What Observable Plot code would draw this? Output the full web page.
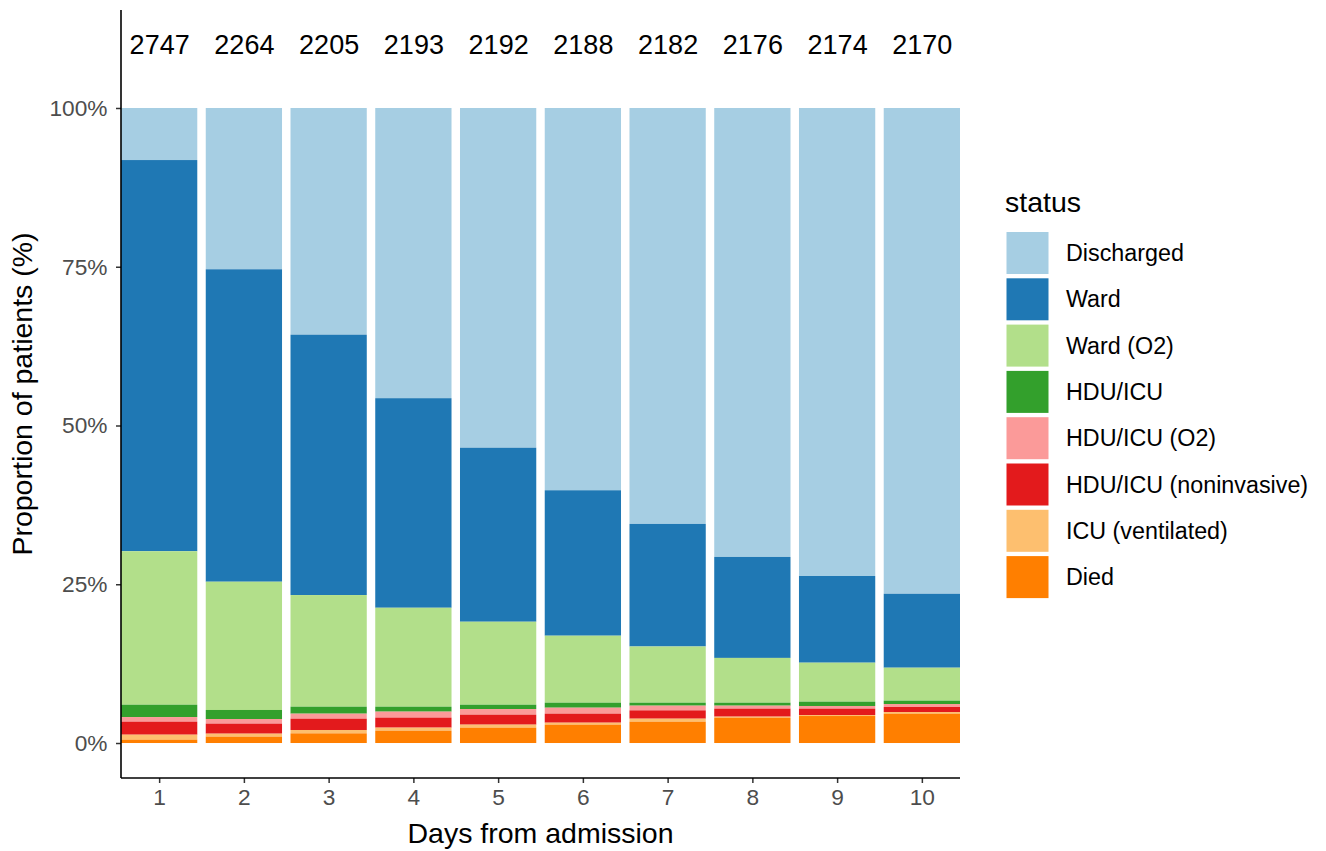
<!DOCTYPE html>
<html>
<head>
<meta charset="utf-8">
<script src="https://cdn.jsdelivr.net/npm/d3@7"></script>
<script src="https://cdn.jsdelivr.net/npm/@observablehq/plot@0.6"></script>
<style>
  html, body { margin: 0; padding: 0; background: white; }
  #chart { position: relative; width: 1326px; height: 851px; }
</style>
</head>
<body>
<div id="chart"></div>
<script>
// ---- data ----
const days = [1, 2, 3, 4, 5, 6, 7, 8, 9, 10];
const counts = [2747, 2264, 2205, 2193, 2192, 2188, 2182, 2176, 2174, 2170];
const statuses = ["Discharged", "Ward", "Ward (O2)", "HDU/ICU", "HDU/ICU (O2)",
  "HDU/ICU (noninvasive)", "ICU (ventilated)", "Died"];
const colors = ["#A6CEE3", "#1F78B4", "#B2DF8A", "#33A02C", "#FB9A99",
  "#E31A1C", "#FDBF6F", "#FF7F00"];
const yTicks = [0, 25, 50, 75, 100];
const countLabelY = 110;

// percentages per status for each day
const discharged = [8.2, 25.4, 35.7, 45.7, 53.5, 60.2, 65.5, 70.7, 73.7, 76.5];
const ward       = [61.6, 49.2, 41.0, 33.0, 27.4, 22.9, 19.3, 15.9, 13.65, 11.64];
const wardO2     = [24.17, 20.2, 17.58, 15.58, 13.07, 10.55, 8.85, 7.05, 6.14, 5.19];
const hduIcu     = [1.94, 1.42, 1.1, 0.78, 0.68, 0.79, 0.47, 0.47, 0.68, 0.53];
const hduIcuO2   = [0.73, 0.73, 0.79, 0.94, 0.89, 0.94, 0.74, 0.47, 0.42, 0.47];
const noninv     = [2.05, 1.58, 1.78, 1.58, 1.57, 1.42, 1.31, 1.26, 1.0, 0.79];
const ventilated = [0.78, 0.47, 0.53, 0.48, 0.47, 0.31, 0.47, 0.16, 0.16, 0.26];
const died       = [0.53, 1.0, 1.52, 1.94, 2.42, 2.89, 3.36, 3.99, 4.25, 4.62];

const series = [discharged, ward, wardO2, hduIcu, hduIcuO2, noninv, ventilated, died];

const table = days.flatMap((d, i) =>
  statuses.map((s, j) => ({ day: d, status: s, value: series[j][i] })));
const countRows = days.map((d, i) => ({ day: d, n: counts[i] }));
const stackOrder = statuses.slice().reverse();

const FONT = "Liberation Sans, Arial, Helvetica, sans-serif";

const chart = Plot.plot({
  width: 1326,
  height: 851,
  marginLeft: 121,
  marginRight: 366,
  marginTop: 10,
  marginBottom: 73,
  style: { fontFamily: FONT, background: "white", overflow: "visible" },
  x: { domain: days, paddingInner: 0.1, paddingOuter: 0.0001, round: false, axis: null },
  y: { domain: [-5.51, 115.43], axis: null },
  color: { domain: statuses, range: colors },
  marks: [
    Plot.barY(table, { x: "day", y: "value", fill: "status", order: stackOrder }),
    Plot.text(countRows, { x: "day", y: () => countLabelY, text: d => String(d.n),
      fontSize: 27, fill: "black" }),
    Plot.axisY({ ticks: yTicks, tickFormat: d => d + "%", tickSize: 5, tickPadding: 9,
      fontSize: 22.7, fill: "#4D4D4D", stroke: "#333", strokeWidth: 1.5, label: null }),
    Plot.axisX({ tickSize: 5, tickPadding: 5, fontSize: 22.7, fill: "#4D4D4D",
      stroke: "#333", strokeWidth: 1.5, label: null })
  ]
});

document.getElementById("chart").appendChild(chart);

// axis lines, titles and legend drawn from the plot's scales
const svg = d3.select(chart);
const xs = chart.scale("x"), ys = chart.scale("y");
const [x0, x1] = xs.range;
const [yb, yt] = ys.range;

svg.append("line").attr("x1", x0).attr("x2", x1).attr("y1", yb).attr("y2", yb)
  .attr("stroke", "black").attr("stroke-width", 1.6);
svg.append("line").attr("x1", x0).attr("x2", x0).attr("y1", yt).attr("y2", yb)
  .attr("stroke", "black").attr("stroke-width", 1.6);

svg.append("text").text("Days from admission")
  .attr("x", (x0 + x1) / 2).attr("y", 843)
  .attr("text-anchor", "middle").attr("font-size", 28.5)
  .attr("font-family", FONT).attr("fill", "black");

svg.append("text").text("Proportion of patients (%)")
  .attr("transform", `translate(32,${(yt + yb) / 2}) rotate(-90)`)
  .attr("text-anchor", "middle").attr("font-size", 28.5)
  .attr("font-family", FONT).attr("fill", "black");

// legend
const lg = svg.append("g").attr("font-family", FONT).attr("text-anchor", "start");
lg.append("text").text("status").attr("x", 1005).attr("y", 212)
  .attr("text-anchor", "start").attr("font-size", 28.5).attr("fill", "black");
statuses.forEach((s, i) => {
  const top = 232 + i * 46.3;
  lg.append("rect").attr("x", 1006.5).attr("y", top).attr("width", 42).attr("height", 42)
    .attr("fill", colors[i]);
  lg.append("text").text(s).attr("x", 1066).attr("y", top + 21)
    .attr("dy", "0.35em").attr("text-anchor", "start")
    .attr("font-size", 23.3).attr("fill", "black");
});
</script>
</body>
</html>
